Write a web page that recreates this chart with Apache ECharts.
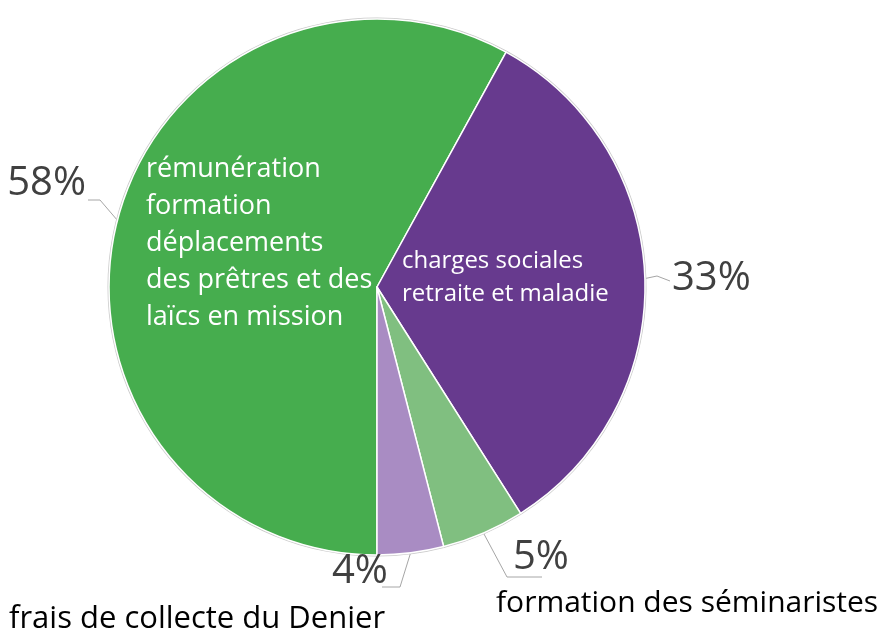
<!DOCTYPE html>
<html>
<head>
<meta charset="utf-8">
<script src="https://cdn.jsdelivr.net/npm/echarts@6/dist/echarts.min.js"></script>
<style>
html,body{margin:0;padding:0;background:#fff;}
#chart{width:885px;height:642px;}
</style>
</head>
<body>
<div id="chart"></div>
<script>
// Data
var categories = [
  "rémunération\nformation\ndéplacements\ndes prêtres et des\nlaïcs en mission",
  "charges sociales\nretraite et maladie",
  "formation des séminaristes",
  "frais de collecte du Denier"
];
var values = [58, 33, 5, 4];
var percentLabels = ["58%", "33%", "5%", "4%"];

var colors = ["#46AD4E", "#673A8E", "#80BF80", "#A98CC3"];
var center = [377, 287];
var R = 268;

// label styles/positions (presentation only)
var nameStyles = [
  {color: "#ffffff", fontSize: 27, lineHeight: 37, x: 146, y: 151},
  {color: "#ffffff", fontSize: 24, lineHeight: 33, x: 402, y: 245},
  {color: "#000000", fontSize: 30, lineHeight: 30, x: 496, y: 588},
  {color: "#000000", fontSize: 31, lineHeight: 31, x: 9, y: 604}
];
var pctPos = [
  {x: 86, y: 184, align: "right", pts: [[100, 200], [88, 200]]},
  {x: 672, y: 279, align: "left", pts: [[657, 276], [670, 281]]},
  {x: 513, y: 558, align: "left", pts: [[507, 577], [542, 577]]},
  {x: 332, y: 572, align: "left", pts: [[400, 587], [382, 587]]}
];

var sliceData = categories.map(function (c, i) {
  return {name: c, value: values[i], itemStyle: {color: colors[i]}};
});
var nameData = categories.map(function (c, i) {
  return {
    name: c, value: values[i],
    label: {color: nameStyles[i].color, fontSize: nameStyles[i].fontSize, lineHeight: nameStyles[i].lineHeight}
  };
});
var ringData = categories.map(function (c, i) {
  return {name: c, value: values[i]};
});

var chart = echarts.init(document.getElementById("chart"), null, {renderer: "canvas"});
chart.setOption({
  animation: false,
  backgroundColor: "#ffffff",
  series: [
    {
      type: "pie",
      silent: true,
      center: center,
      radius: [R - 1, R + 1.5],
      startAngle: 270,
      clockwise: true,
      data: ringData,
      itemStyle: {color: "#c9c9c9", borderWidth: 0},
      label: {show: false},
      labelLine: {show: false}
    },
    {
      type: "pie",
      center: center,
      radius: R,
      startAngle: 270,
      clockwise: true,
      avoidLabelOverlap: false,
      data: sliceData,
      itemStyle: {borderColor: "#ffffff", borderWidth: 1.5},
      label: {
        show: true,
        position: "outside",
        formatter: function (p) { return percentLabels[p.dataIndex]; },
        fontFamily: "Open Sans",
        fontSize: 40,
        color: "#404040"
      },
      labelLine: {show: true, lineStyle: {color: "#a6a6a6", width: 1}},
      labelLayout: function (p) {
        var c = pctPos[p.dataIndex];
        var start = (p.labelLinePoints && p.labelLinePoints[0]) ? p.labelLinePoints[0] : c.pts[0];
        return {
          x: c.x, y: c.y, align: c.align, verticalAlign: "middle",
          labelLinePoints: [start, c.pts[0], c.pts[1]]
        };
      }
    },
    {
      type: "pie",
      silent: true,
      center: center,
      radius: R,
      startAngle: 270,
      clockwise: true,
      avoidLabelOverlap: false,
      data: nameData,
      itemStyle: {color: "rgba(0,0,0,0)", borderWidth: 0},
      label: {
        show: true,
        position: "inside",
        formatter: function (p) { return categories[p.dataIndex]; },
        fontFamily: "Open Sans",
        align: "left"
      },
      labelLine: {show: false},
      labelLayout: function (p) {
        var s = nameStyles[p.dataIndex];
        return {x: s.x, y: s.y, align: "left", verticalAlign: "top"};
      }
    }
  ]
});
</script>
</body>
</html>
